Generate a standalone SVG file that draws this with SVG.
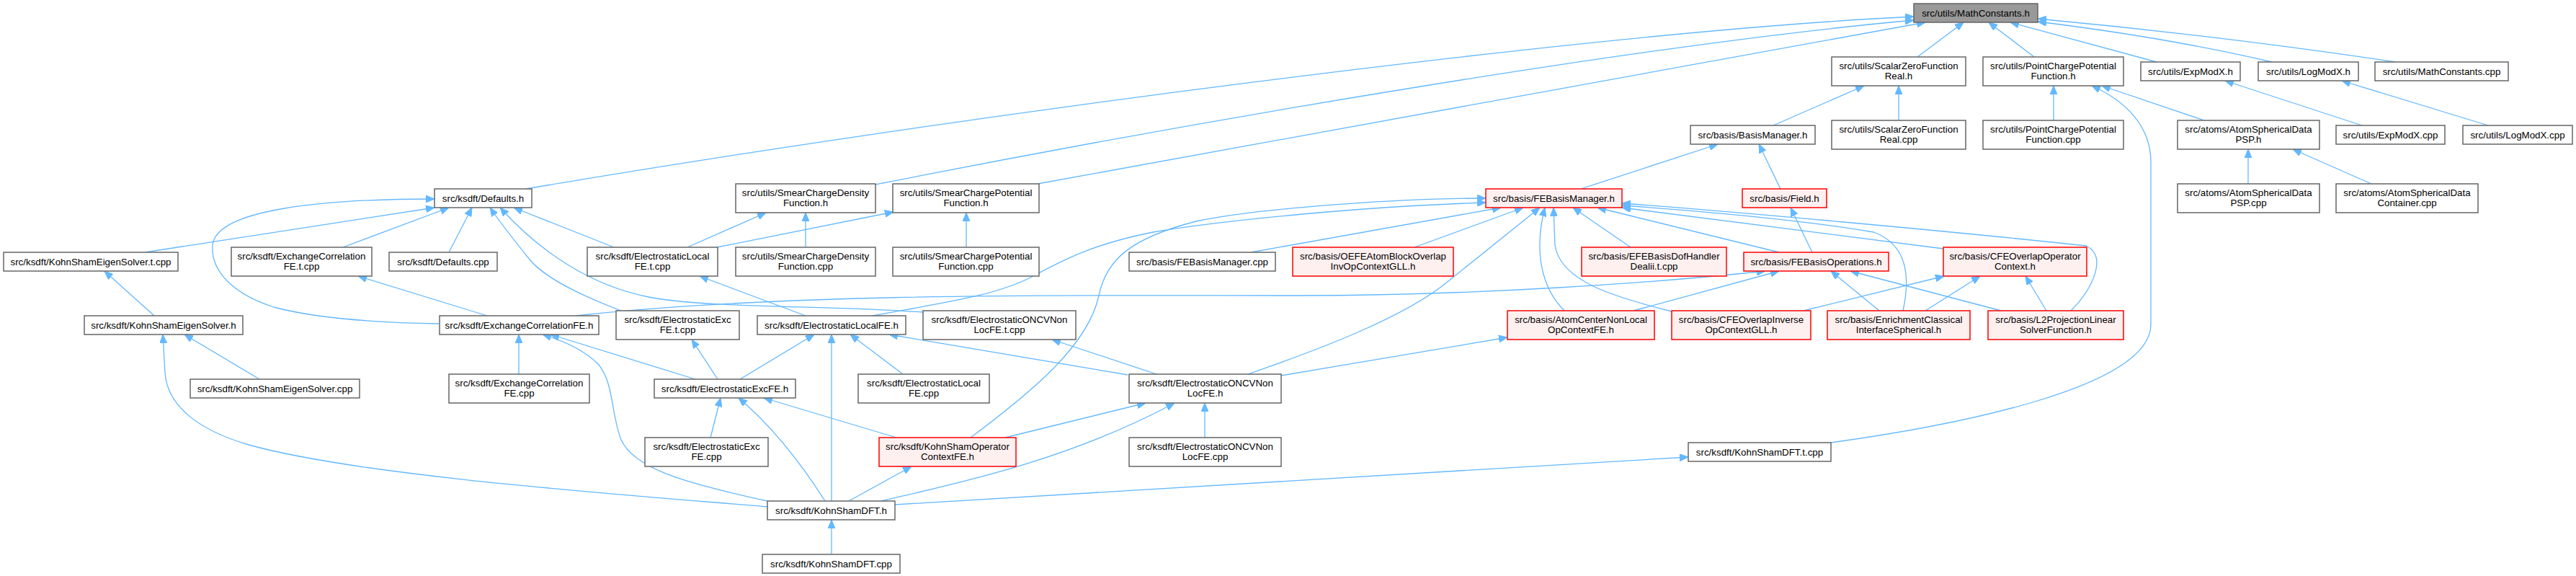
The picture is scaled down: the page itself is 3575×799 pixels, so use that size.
<svg xmlns="http://www.w3.org/2000/svg" width="3575" height="799" viewBox="0 0 3575 799">
<style>
.n rect{fill:#ffffff;stroke:#666666;stroke-width:1.5}
.r rect{fill:#fff0f0;stroke:#ff0000;stroke-width:1.5}
.root rect{fill:#999999;stroke:#666666;stroke-width:1.5}
text{font-family:"Liberation Sans",Arial,sans-serif;font-size:13.33px;fill:#000000;text-anchor:middle}
#edges path{fill:none;stroke:#63b8ff;stroke-width:1.3;marker-end:url(#a)}
</style>
<defs>
<marker id="a" markerWidth="12" markerHeight="10" refX="12" refY="5" orient="auto" markerUnits="userSpaceOnUse"><path d="M0,0 L12,5 L0,10 z" fill="#63b8ff" stroke="#63b8ff" stroke-width="1"/></marker>
</defs>
<rect width="3575" height="799" fill="#ffffff"/>
<g id="edges">
<path d="M730,262 C1300,165 2200,45 2656,23"/>
<path d="M1215,256 C1700,160 2300,60 2656,28"/>
<path d="M1440,255 L2672,31"/>
<path d="M2661,79 L2725,31"/>
<path d="M2823,79 L2760,31"/>
<path d="M2993,86 L2790,31"/>
<path d="M3153,86 C3050,62 2950,45 2828,30"/>
<path d="M3325,86 C3150,60 3000,42 2828,26"/>
<path d="M2461,174 L2587,119"/>
<path d="M2635,167 L2635,119"/>
<path d="M2850,167 L2850,119"/>
<path d="M3059,167 L2917,119"/>
<path d="M2541,614 C2700,592 2985,540 2985,450 L2985,225 C2985,175 2950,140 2903,119"/>
<path d="M3120,255 L3120,207"/>
<path d="M3291,255 L3182,207"/>
<path d="M3278,174 L3088,112"/>
<path d="M3453,174 L3250,112"/>
<path d="M2471,262 L2441,200"/>
<path d="M2194,262 L2384,200"/>
<path d="M2515,350 L2485,288"/>
<path d="M1736,350 L2083,288"/>
<path d="M1963,343 L2114,288"/>
<path d="M1211,438 C1320,418 1380,410 1430,385 C1480,358 1520,338 1600,322 C1700,305 1900,286 2062,281"/>
<path d="M1347,607 C1430,545 1510,480 1525,410 C1535,360 1570,330 1660,307 C1750,288 1950,275 2062,275"/>
<path d="M1732,519 C1830,485 1950,440 2010,390 L2137,288"/>
<path d="M2171,431 C2140,400 2128,350 2144,288"/>
<path d="M2320,432 C2240,412 2165,390 2158,340 L2156,288"/>
<path d="M2263,343 L2183,288"/>
<path d="M2469,350 L2217,288"/>
<path d="M2697,345 L2251,288"/>
<path d="M2641,431 C2650,390 2650,340 2600,322 C2500,305 2350,292 2251,285"/>
<path d="M2874,431 C2905,400 2925,355 2895,341 C2700,320 2400,293 2251,282"/>
<path d="M799,438 C1100,405 1500,410 1800,410 C2050,410 2300,392 2450,376"/>
<path d="M2267,431 L2469,376"/>
<path d="M2608,431 L2541,376"/>
<path d="M2777,431 L2568,376"/>
<path d="M2503,431 L2698,383"/>
<path d="M2672,431 L2748,383"/>
<path d="M2840,431 L2811,383"/>
<path d="M1778,521 L2092,468"/>
<path d="M1242,700 L2343,634"/>
<path d="M1672,607 L1672,559"/>
<path d="M1395,607 L1590,559"/>
<path d="M1223,695 C1320,672 1480,640 1630,559"/>
<path d="M1605,519 L1460,471"/>
<path d="M1281,433 C1150,423 980,428 900,412 C820,396 750,350 694,288"/>
<path d="M1565,520 L1234,464"/>
<path d="M1253,519 L1180,464"/>
<path d="M1027,526 L1130,464"/>
<path d="M1154,695 L1154,464"/>
<path d="M1118,438 L971,383"/>
<path d="M852,343 L713,288"/>
<path d="M954,343 L1063,295"/>
<path d="M995,343 L1240,294"/>
<path d="M1118,343 L1118,295"/>
<path d="M1341,343 L1341,295"/>
<path d="M201,350 L603,288"/>
<path d="M476,343 L623,288"/>
<path d="M623,350 L655,288"/>
<path d="M862,431 C820,415 760,390 735,360 C715,335 695,310 680,288"/>
<path d="M609,449 C550,448 450,445 380,426 C330,410 292,380 295,340 C300,290 450,276 603,276"/>
<path d="M676,438 L497,383"/>
<path d="M214,438 L145,376"/>
<path d="M360,526 L256,464"/>
<path d="M1065,703 C850,685 500,660 345,617 C270,595 232,560 229,517 L226,464"/>
<path d="M720,519 L720,464"/>
<path d="M965,526 L764,464"/>
<path d="M1065,695 C950,670 880,650 862,610 C848,575 852,530 830,505 C810,485 780,472 753,464"/>
<path d="M996,526 L960,471"/>
<path d="M986,607 L1000,552"/>
<path d="M1145,695 C1110,640 1070,590 1025,552"/>
<path d="M1244,607 L1060,552"/>
<path d="M1178,695 L1265,647"/>
<path d="M1154,769 L1154,721"/>
</g>
<g id="n_math" class="root"><rect x="2656" y="5" width="172" height="26"/><text x="2742" y="23">src/utils/MathConstants.h</text></g>
<g id="n_szf_h" class="n"><rect x="2542" y="79" width="186" height="40"/><text x="2635" y="96">src/utils/ScalarZeroFunction</text><text x="2635" y="110">Real.h</text></g>
<g id="n_pcp_h" class="n"><rect x="2752" y="79" width="195" height="40"/><text x="2849.5" y="96">src/utils/PointChargePotential</text><text x="2849.5" y="110">Function.h</text></g>
<g id="n_exp_h" class="n"><rect x="2971" y="86" width="138" height="26"/><text x="3040" y="104">src/utils/ExpModX.h</text></g>
<g id="n_log_h" class="n"><rect x="3134" y="86" width="139" height="26"/><text x="3203.5" y="104">src/utils/LogModX.h</text></g>
<g id="n_math_cpp" class="n"><rect x="3296" y="86" width="185" height="26"/><text x="3388.5" y="104">src/utils/MathConstants.cpp</text></g>
<g id="n_bm" class="n"><rect x="2346" y="174" width="173" height="26"/><text x="2432.5" y="192">src/basis/BasisManager.h</text></g>
<g id="n_szf_cpp" class="n"><rect x="2542" y="167" width="186" height="40"/><text x="2635" y="184">src/utils/ScalarZeroFunction</text><text x="2635" y="198">Real.cpp</text></g>
<g id="n_pcp_cpp" class="n"><rect x="2752" y="167" width="195" height="40"/><text x="2849.5" y="184">src/utils/PointChargePotential</text><text x="2849.5" y="198">Function.cpp</text></g>
<g id="n_asd_h" class="n"><rect x="3022" y="167" width="197" height="40"/><text x="3120.5" y="184">src/atoms/AtomSphericalData</text><text x="3120.5" y="198">PSP.h</text></g>
<g id="n_exp_cpp" class="n"><rect x="3242" y="174" width="151" height="26"/><text x="3317.5" y="192">src/utils/ExpModX.cpp</text></g>
<g id="n_log_cpp" class="n"><rect x="3418" y="174" width="152" height="26"/><text x="3494" y="192">src/utils/LogModX.cpp</text></g>
<g id="n_defaults_h" class="n"><rect x="603" y="262" width="135" height="26"/><text x="670.5" y="280">src/ksdft/Defaults.h</text></g>
<g id="n_scd_h" class="n"><rect x="1021" y="255" width="194" height="40"/><text x="1118" y="272">src/utils/SmearChargeDensity</text><text x="1118" y="286">Function.h</text></g>
<g id="n_scp_h" class="n"><rect x="1239" y="255" width="203" height="40"/><text x="1340.5" y="272">src/utils/SmearChargePotential</text><text x="1340.5" y="286">Function.h</text></g>
<g id="n_febm_h" class="r"><rect x="2062" y="262" width="189" height="26"/><text x="2156.5" y="280">src/basis/FEBasisManager.h</text></g>
<g id="n_field" class="r"><rect x="2418" y="262" width="117" height="26"/><text x="2476.5" y="280">src/basis/Field.h</text></g>
<g id="n_asd_psp_cpp" class="n"><rect x="3022" y="255" width="197" height="40"/><text x="3120.5" y="272">src/atoms/AtomSphericalData</text><text x="3120.5" y="286">PSP.cpp</text></g>
<g id="n_asd_cont" class="n"><rect x="3242" y="255" width="197" height="40"/><text x="3340.5" y="272">src/atoms/AtomSphericalData</text><text x="3340.5" y="286">Container.cpp</text></g>
<g id="n_kses_tcpp" class="n"><rect x="5" y="350" width="242" height="26"/><text x="126" y="368">src/ksdft/KohnShamEigenSolver.t.cpp</text></g>
<g id="n_xc_tcpp" class="n"><rect x="321" y="343" width="195" height="40"/><text x="418.5" y="360">src/ksdft/ExchangeCorrelation</text><text x="418.5" y="374">FE.t.cpp</text></g>
<g id="n_defaults_cpp" class="n"><rect x="540" y="350" width="150" height="26"/><text x="615" y="368">src/ksdft/Defaults.cpp</text></g>
<g id="n_el_tcpp" class="n"><rect x="815" y="343" width="181" height="40"/><text x="905.5" y="360">src/ksdft/ElectrostaticLocal</text><text x="905.5" y="374">FE.t.cpp</text></g>
<g id="n_scd_cpp" class="n"><rect x="1021" y="343" width="194" height="40"/><text x="1118" y="360">src/utils/SmearChargeDensity</text><text x="1118" y="374">Function.cpp</text></g>
<g id="n_scp_cpp" class="n"><rect x="1239" y="343" width="203" height="40"/><text x="1340.5" y="360">src/utils/SmearChargePotential</text><text x="1340.5" y="374">Function.cpp</text></g>
<g id="n_febm_cpp" class="n"><rect x="1567" y="350" width="203" height="26"/><text x="1668.5" y="368">src/basis/FEBasisManager.cpp</text></g>
<g id="n_oefe" class="r"><rect x="1794" y="343" width="223" height="40"/><text x="1905.5" y="360">src/basis/OEFEAtomBlockOverlap</text><text x="1905.5" y="374">InvOpContextGLL.h</text></g>
<g id="n_efe" class="r"><rect x="2195" y="343" width="201" height="40"/><text x="2295.5" y="360">src/basis/EFEBasisDofHandler</text><text x="2295.5" y="374">Dealii.t.cpp</text></g>
<g id="n_febo" class="r"><rect x="2420" y="350" width="201" height="26"/><text x="2520.5" y="368">src/basis/FEBasisOperations.h</text></g>
<g id="n_cfeoc" class="r"><rect x="2697" y="343" width="199" height="40"/><text x="2796.5" y="360">src/basis/CFEOverlapOperator</text><text x="2796.5" y="374">Context.h</text></g>
<g id="n_kses_h" class="n"><rect x="117" y="438" width="220" height="26"/><text x="227" y="456">src/ksdft/KohnShamEigenSolver.h</text></g>
<g id="n_xc_h" class="n"><rect x="610" y="438" width="221" height="26"/><text x="720.5" y="456">src/ksdft/ExchangeCorrelationFE.h</text></g>
<g id="n_exc_tcpp" class="n"><rect x="855" y="431" width="171" height="40"/><text x="940.5" y="448">src/ksdft/ElectrostaticExc</text><text x="940.5" y="462">FE.t.cpp</text></g>
<g id="n_el_h" class="n"><rect x="1051" y="438" width="206" height="26"/><text x="1154" y="456">src/ksdft/ElectrostaticLocalFE.h</text></g>
<g id="n_oncv_tcpp" class="n"><rect x="1281" y="431" width="212" height="40"/><text x="1387" y="448">src/ksdft/ElectrostaticONCVNon</text><text x="1387" y="462">LocFE.t.cpp</text></g>
<g id="n_acnl" class="r"><rect x="2092" y="431" width="204" height="40"/><text x="2194" y="448">src/basis/AtomCenterNonLocal</text><text x="2194" y="462">OpContextFE.h</text></g>
<g id="n_cfeoi" class="r"><rect x="2320" y="431" width="193" height="40"/><text x="2416.5" y="448">src/basis/CFEOverlapInverse</text><text x="2416.5" y="462">OpContextGLL.h</text></g>
<g id="n_ecis" class="r"><rect x="2536" y="431" width="198" height="40"/><text x="2635" y="448">src/basis/EnrichmentClassical</text><text x="2635" y="462">InterfaceSpherical.h</text></g>
<g id="n_l2p" class="r"><rect x="2759" y="431" width="188" height="40"/><text x="2853" y="448">src/basis/L2ProjectionLinear</text><text x="2853" y="462">SolverFunction.h</text></g>
<g id="n_kses_cpp" class="n"><rect x="264" y="526" width="235" height="26"/><text x="381.5" y="544">src/ksdft/KohnShamEigenSolver.cpp</text></g>
<g id="n_xc_cpp" class="n"><rect x="623" y="519" width="195" height="40"/><text x="720.5" y="536">src/ksdft/ExchangeCorrelation</text><text x="720.5" y="550">FE.cpp</text></g>
<g id="n_exc_h" class="n"><rect x="908" y="526" width="196" height="26"/><text x="1006" y="544">src/ksdft/ElectrostaticExcFE.h</text></g>
<g id="n_el_cpp" class="n"><rect x="1191" y="519" width="182" height="40"/><text x="1282" y="536">src/ksdft/ElectrostaticLocal</text><text x="1282" y="550">FE.cpp</text></g>
<g id="n_oncv_h" class="n"><rect x="1567" y="519" width="211" height="40"/><text x="1672.5" y="536">src/ksdft/ElectrostaticONCVNon</text><text x="1672.5" y="550">LocFE.h</text></g>
<g id="n_exc_cpp" class="n"><rect x="895" y="607" width="171" height="40"/><text x="980.5" y="624">src/ksdft/ElectrostaticExc</text><text x="980.5" y="638">FE.cpp</text></g>
<g id="n_ksop" class="r"><rect x="1220" y="607" width="190" height="40"/><text x="1315" y="624">src/ksdft/KohnShamOperator</text><text x="1315" y="638">ContextFE.h</text></g>
<g id="n_oncv_cpp" class="n"><rect x="1567" y="607" width="211" height="40"/><text x="1672.5" y="624">src/ksdft/ElectrostaticONCVNon</text><text x="1672.5" y="638">LocFE.cpp</text></g>
<g id="n_ksdft_tcpp" class="n"><rect x="2343" y="614" width="198" height="26"/><text x="2442" y="632">src/ksdft/KohnShamDFT.t.cpp</text></g>
<g id="n_ksdft_h" class="n"><rect x="1065" y="695" width="177" height="26"/><text x="1153.5" y="713">src/ksdft/KohnShamDFT.h</text></g>
<g id="n_ksdft_cpp" class="n"><rect x="1058" y="769" width="191" height="26"/><text x="1153.5" y="787">src/ksdft/KohnShamDFT.cpp</text></g>
</svg>
